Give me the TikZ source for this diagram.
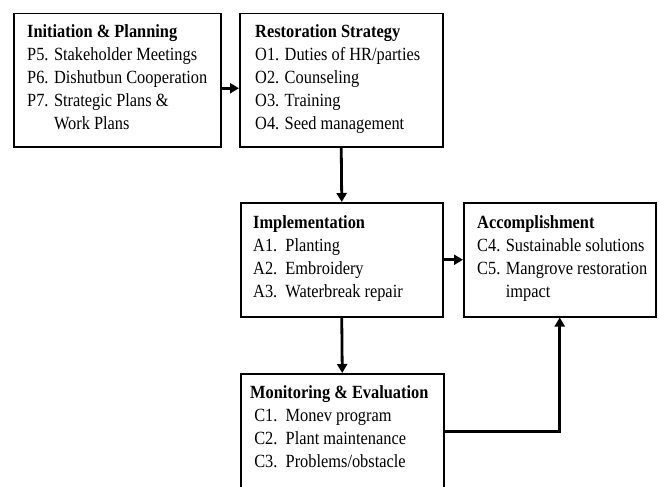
\documentclass[tikz,border=0pt]{standalone}
\usepackage{fontspec}
\setmainfont{Liberation Serif}[FakeStretch=0.88]
\usetikzlibrary{arrows.meta}

\def\stagefont{\fontsize{18.6}{23}\selectfont}

\tikzset{
  stage/.style={draw, line width=1.5pt, anchor=north west, inner sep=0pt},
  stagetext/.style={anchor=north west, inner sep=0pt, align=left, font=\stagefont},
  flow/.style={line width=2.8pt, -{Triangle[length=9pt,width=10pt]}}
}

\begin{document}
\begin{tikzpicture}[x=1pt,y=-1pt]

\clip (0,0) rectangle (659,487);
\fill[white] (0,0) rectangle (659,487);

% boxes
\node[stage, minimum width=207pt, minimum height=133pt] (init) at (13,13) {};
\node[stage, minimum width=203pt, minimum height=133pt] (strat) at (239,13) {};
\node[stage, minimum width=202pt, minimum height=114pt] (impl) at (240,202) {};
\node[stage, minimum width=192pt, minimum height=114pt] (accom) at (463,202) {};
\node[stage, minimum width=203pt, minimum height=116pt] (monev) at (240,373) {};

% texts
\node[stagetext] (inittxt) at ([xshift=14pt,yshift=-8pt]init.north west) {%
\begin{tabular}{@{}l@{ }l@{}}
\multicolumn{2}{@{}l@{}}{\textbf{Initiation \& Planning}}\\
P5. & Stakeholder Meetings\\
P6. & Dishutbun Cooperation\\
P7. & Strategic Plans \&\\
    & Work Plans
\end{tabular}};

\node[stagetext] (strattxt) at ([xshift=16pt,yshift=-8pt]strat.north west) {%
\begin{tabular}{@{}l@{ }l@{}}
\multicolumn{2}{@{}l@{}}{\textbf{Restoration Strategy}}\\
O1. & Duties of HR/parties\\
O2. & Counseling\\
O3. & Training\\
O4. & Seed management
\end{tabular}};

\node[stagetext] (impltxt) at ([xshift=13pt,yshift=-10pt]impl.north west) {%
\begin{tabular}{@{}l@{\ \ }l@{}}
\multicolumn{2}{@{}l@{}}{\textbf{Implementation}}\\
A1. & Planting\\
A2. & Embroidery\\
A3. & Waterbreak repair
\end{tabular}};

\node[stagetext] (accomtxt) at ([xshift=14pt,yshift=-10pt]accom.north west) {%
\begin{tabular}{@{}l@{ }l@{}}
\multicolumn{2}{@{}l@{}}{\textbf{Accomplishment}}\\
C4. & Sustainable solutions\\
C5. & Mangrove restoration\\
    & impact
\end{tabular}};

\node[stagetext] (monevtxt) at ([xshift=10pt,yshift=-9pt]monev.north west) {%
\begin{tabular}{@{}l@{\ \ }l@{}}
\multicolumn{2}{@{}l@{}}{\textbf{Monitoring \& Evaluation}}\\
\ C1. & Monev program\\
\ C2. & Plant maintenance\\
\ C3. & Problems/obstacle
\end{tabular}};

% connectors
\draw[flow] ([yshift=-8pt]init.east) -- ([yshift=-8pt]strat.west);
\draw[flow] (strat.south) -- (impl.north);
\draw[flow] (impl.east) -- (accom.west);
\draw[flow] (impl.south) -- (monev.north);
\draw[flow] (monev.east) -| (accom.south);

\end{tikzpicture}
\end{document}
